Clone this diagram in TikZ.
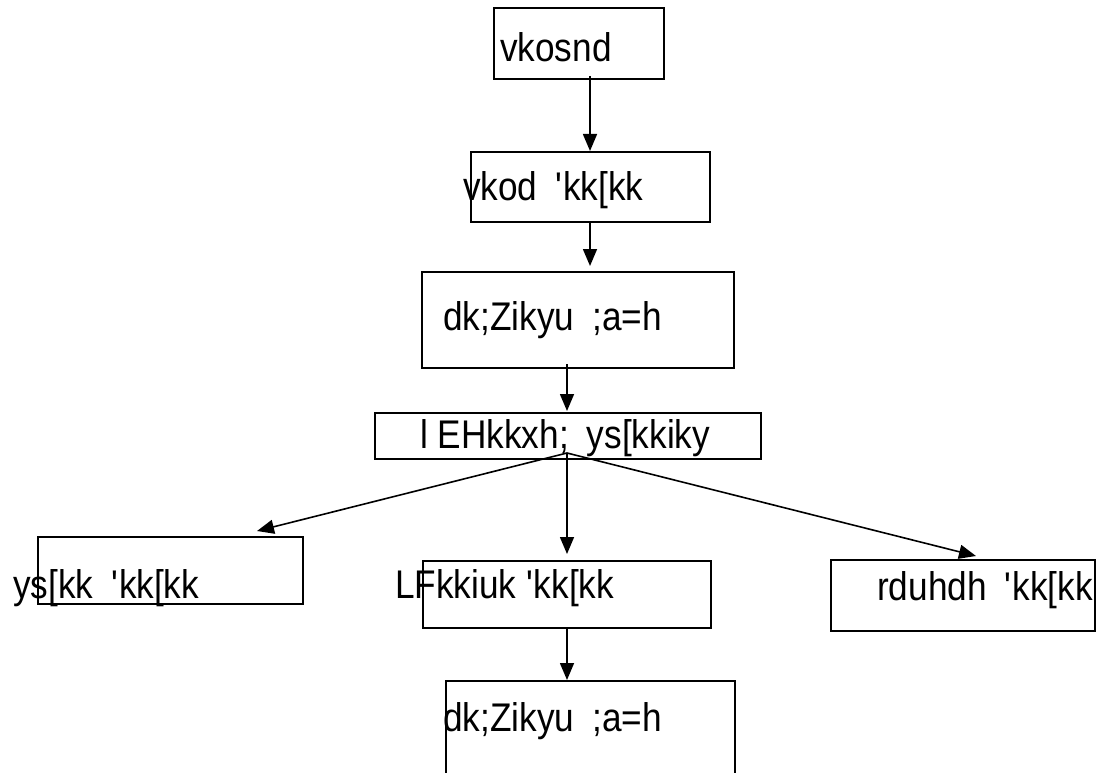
\documentclass[tikz,border=0pt]{standalone}
\usepackage{fontspec}
\setmainfont{Liberation Sans}[FakeStretch=0.88]
\usetikzlibrary{arrows.meta}
\newcommand{\wgap}{\hspace{18pt}}
\begin{document}
\begin{tikzpicture}[x=1pt,y=-1pt,
  box/.style={draw=black,line width=1.8pt,inner sep=0pt,outer sep=0pt,anchor=north west},
  txt/.style={inner sep=0pt,anchor=base west,font=\fontsize{40}{44}\selectfont},
  arr/.style={draw=black,line width=1.6pt,-{Triangle[length=17pt,width=14pt]}}]
\useasboundingbox (0,0) rectangle (1105,773);
% boxes
\node[box,minimum width=170pt,minimum height=71pt] (b1) at (494,8) {};
\node[box,minimum width=239pt,minimum height=70pt] (b2) at (471,152) {};
\node[box,minimum width=312pt,minimum height=96pt] (b3) at (422,272) {};
\node[box,minimum width=386pt,minimum height=46pt] (b4) at (375,413) {};
\node[box,minimum width=265pt,minimum height=67pt] (b5) at (38,537) {};
\node[box,minimum width=288pt,minimum height=67pt] (b6) at (423,561) {};
\node[box,minimum width=264pt,minimum height=71pt] (b7) at (831,560) {};
\node[box,minimum width=289pt,minimum height=120pt] (b8) at (446,681) {};
% texts
\node[txt] (t1) at (500,62) {vkosnd};
\node[txt] (t2) at (463,200) {vkod\wgap\textquotesingle kk[kk};
\node[txt] (t3) at (443,330) {dk;Zikyu\wgap;a=h};
\node[txt] (t4) at (420,448) {l EHkkxh;\wgap ys[kkiky};
\node[txt] (t5) at (13,598) {ys[kk\wgap\textquotesingle kk[kk};
\node[txt] (t6) at (395,598) {LFkkiuk \textquotesingle kk[kk};
\node[txt] (t7) at (877,600) {rduhdh\wgap\textquotesingle kk[kk};
\node[txt] (t8) at (443,731) {dk;Zikyu\wgap;a=h};
% connector ends
\coordinate (a1s) at (590,76);
\coordinate (a1e) at (590,151);
\coordinate (a2s) at (590,222);
\coordinate (a2e) at (590,266);
\coordinate (a3s) at (567,364);
\coordinate (a3e) at (567,411);
\coordinate (fan) at (567,453);
\coordinate (f5) at (257,531);
\coordinate (f6) at (567,554);
\coordinate (f7) at (976,556);
\coordinate (a6s) at (567,628);
\coordinate (a6e) at (567,680);
\draw[arr] (a1s) -- (a1e);
\draw[arr] (a2s) -- (a2e);
\draw[arr] (a3s) -- (a3e);
\draw[arr] (fan) -- (f5);
\draw[arr] (fan) -- (f6);
\draw[arr] (fan) -- (f7);
\draw[arr] (a6s) -- (a6e);
\end{tikzpicture}
\end{document}
